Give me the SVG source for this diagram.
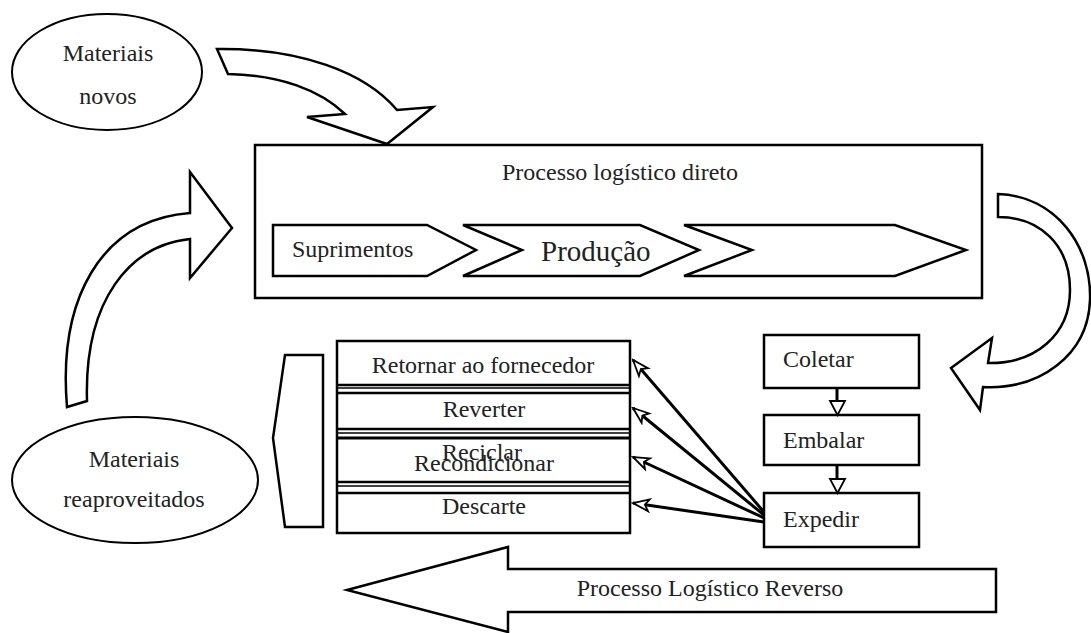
<svg xmlns="http://www.w3.org/2000/svg" width="1091" height="633" viewBox="0 0 1091 633">
<defs>
<style>
.s{fill:#fff;stroke:#000;stroke-width:2.5;stroke-linejoin:miter}
.t{font-family:"Liberation Serif",serif;font-size:24px;fill:#222}
.m{text-anchor:middle}
.c{stroke:#000;stroke-width:3;fill:none}
.ln{stroke:#000;stroke-width:1.5}
</style>
<marker id="oa" markerUnits="userSpaceOnUse" markerWidth="20" markerHeight="16" viewBox="0 0 20 16" refX="18" refY="8" orient="auto">
<path d="M2,2 L18,8 L2,14 L6,8 Z" fill="#fff" stroke="#000" stroke-width="1.8"/>
</marker>
</defs>
<rect width="1091" height="633" fill="#fff"/>

<g id="materiais-novos">
<ellipse class="s" cx="107" cy="72" rx="95" ry="58" style="stroke-width:2"/>
<text class="t m" x="108" y="61">Materiais</text>
<text class="t m" x="108" y="104">novos</text>
</g>

<g id="seta-entrada">
<path class="s" d="M217,49 C300,48 365,72 397,110 L433,107 L387,144 L307,117 L345,114 C320,90 280,75 228,74 Z"/>
</g>

<g id="processo-direto">
<rect class="s" x="255" y="145" width="727" height="153"/>
<text class="t m" x="620" y="180">Processo logístico direto</text>
<path class="s" d="M273,225 L427,225 L476,250 L427,276 L273,276 Z"/>
<text class="t" x="292" y="257">Suprimentos</text>
<path class="s" d="M463,225 L640,225 L699,250 L640,276 L463,276 L522,250 Z"/>
<text class="t" x="541" y="261" style="font-size:29px">Produção</text>
<path class="s" d="M684,225 L895,225 L966,250 L895,276 L684,276 L752,250 Z"/>
</g>

<g id="seta-retorno-direita">
<path class="s" d="M998,194 C1055,196 1092,245 1090,300 C1088,355 1040,390 983,387 L980,410 L951,368 L992,338 L988,363 C1035,364 1070,335 1070,290 C1070,245 1040,217 998,217 Z"/>
</g>

<g id="coletar">
<rect class="s" x="764" y="335" width="155" height="53"/>
<text class="t" x="783" y="367">Coletar</text>
</g>
<g id="embalar">
<rect class="s" x="764" y="415" width="155" height="50"/>
<text class="t" x="783" y="448">Embalar</text>
</g>
<g id="expedir">
<rect class="s" x="764" y="493" width="155" height="54"/>
<text class="t" x="783" y="527">Expedir</text>
</g>

<g id="destinos">
<rect class="s" x="337" y="341" width="293" height="192"/>
<line class="ln" x1="337" y1="388" x2="630" y2="388"/>
<line class="ln" x1="337" y1="433" x2="630" y2="433"/>
<line class="ln" x1="337" y1="486" x2="630" y2="486"/>
<line class="c" x1="337" y1="385" x2="630" y2="385" style="stroke-width:2.5"/>
<line class="c" x1="337" y1="393" x2="630" y2="393" style="stroke-width:2.5"/>
<line class="c" x1="337" y1="429" x2="630" y2="429" style="stroke-width:2.5"/>
<line class="c" x1="337" y1="438" x2="630" y2="438" style="stroke-width:3"/>
<line class="c" x1="337" y1="482" x2="630" y2="482" style="stroke-width:2.5"/>
<line class="c" x1="337" y1="493" x2="630" y2="493" style="stroke-width:2.5"/>
<text class="t m" x="483" y="373">Retornar ao fornecedor</text>
<text class="t m" x="484" y="417">Reverter</text>
<text class="t m" x="482" y="460">Reciclar</text>
<text class="t m" x="484" y="471">Recondicionar</text>
<text class="t m" x="484" y="514">Descarte</text>
</g>

<g id="chave-esquerda">
<path class="s" d="M285,355 L323,355 L323,527 L285,527 L273,438 Z"/>
</g>

<g id="materiais-reaproveitados">
<ellipse class="s" cx="135" cy="480" rx="123" ry="63" style="stroke-width:2"/>
<text class="t m" x="134" y="467">Materiais</text>
<text class="t m" x="134" y="507">reaproveitados</text>
</g>

<g id="seta-reaproveitamento">
<path class="s" d="M67,407 C58,300 100,220 190,213 L190,172 L232,228 L190,278 L190,239 C130,245 84,300 87,401 Z"/>
</g>

<g id="processo-reverso">
<path class="s" d="M996,569 L508,569 L508,547 L347,590 L508,632 L508,612 L996,612 Z"/>
<text class="t m" x="710" y="596">Processo Logístico Reverso</text>
</g>

<g id="conectores">
<line class="c" x1="837" y1="388" x2="837" y2="402"/>
<path d="M830,401 L845,401 L837.5,415 Z" fill="#fff" stroke="#000" stroke-width="1.8"/>
<line class="c" x1="837" y1="465" x2="837" y2="480"/>
<path d="M830,479 L845,479 L837.5,493 Z" fill="#fff" stroke="#000" stroke-width="1.8"/>
<line class="c" x1="764" y1="512" x2="633" y2="360" marker-end="url(#oa)"/>
<line class="c" x1="764" y1="515" x2="633" y2="408" marker-end="url(#oa)"/>
<line class="c" x1="764" y1="518" x2="633" y2="457" marker-end="url(#oa)"/>
<line class="c" x1="764" y1="522" x2="633" y2="503" marker-end="url(#oa)"/>
</g>
</svg>
